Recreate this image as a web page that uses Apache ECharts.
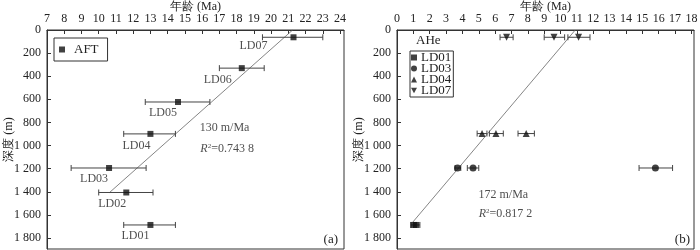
<!DOCTYPE html>
<html>
<head>
<meta charset="utf-8">
<script src="https://cdn.jsdelivr.net/npm/echarts@6/dist/echarts.min.js"></script>
<style>html,body{margin:0;padding:0;background:#fff;}#c{width:700px;height:250px;}</style>
</head>
<body>
<div id="c"></div>
<script>
// ---- data ----
const aftSamples = ['LD07', 'LD06', 'LD05', 'LD04', 'LD03', 'LD02', 'LD01'];
const aftAge = [21.3, 18.3, 14.6, 13.0, 10.6, 11.6, 13.0];
const aftDepth = [63, 330, 623, 899, 1194, 1406, 1687];
const aftErrLow = [19.5, 17.0, 12.7, 11.45, 8.4, 10.0, 11.45];
const aftErrHigh = [23.0, 19.6, 16.45, 14.45, 12.75, 13.15, 14.45];
const aftFit = [[21.25, 0], [10.6, 1410]];

const aheNames = ['LD01', 'LD03', 'LD04', 'LD07'];
const aheDepth = [1687, 1194, 896, 63];
const aheAge = [[1.0, 1.18], [3.7, 4.65, 15.8], [5.2, 6.05, 7.9], [6.7, 9.6, 11.1]];
const aheErrLow = [[0.85, 1.0], [3.55, 4.3, 14.8], [4.9, 5.65, 7.4], [6.3, 9.0, 10.45]];
const aheErrHigh = [[1.2, 1.4], [3.9, 5.0, 16.85], [5.5, 6.5, 8.4], [7.1, 10.25, 11.8]];
const aheFit = [[10.9, 0], [0.95, 1665]];

const depthTicks = [0, 200, 400, 600, 800, 1000, 1200, 1400, 1600, 1800];
const aftAgeTicks = [7, 8, 9, 10, 11, 12, 13, 14, 15, 16, 17, 18, 19, 20, 21, 22, 23, 24];
const aheAgeTicks = [0, 1, 2, 3, 4, 5, 6, 7, 8, 9, 10, 11, 12, 13, 14, 15, 16, 17, 18];

const fitRate = ['130 m/Ma', '172 m/Ma'];
const fitR2 = ['0.743 8', '0.817 2'];

// ---- layout / style ----
const FONT = 'Liberation Serif, Times New Roman, serif';
const TXT = '#222';
const LINE = '#333';
const aftLabelOffsets = [[-40, 9], [-24, 12], [-15, 11], [-14, 12], [-15, 11], [-14, 11], [-15, 11]];
const aheSymbols = ['rect', 'circle', 'triangle', 'path://M0,0L10,0L5,9Z'];
const fitTextPos = [[[17.3, 845], [17.45, 1028]], [[6.5, 1428], [6.63, 1593]]];

function fmtDepth(v) {
  if (v >= 1000) return Math.floor(v / 1000) + ' ' + String(v % 1000).padStart(3, '0');
  return String(v);
}

const grids = [
  { left: 47, top: 30, width: 297, height: 219 },
  { left: 397, top: 30, width: 297, height: 219 }
];

function xAxis(idx, min, max, ticks) {
  return {
    gridIndex: idx, type: 'value', position: 'top', min: min, max: max,
    name: '年龄 (Ma)', nameLocation: 'middle', nameGap: 17, nameMoveOverlap: false,
    nameTextStyle: { fontFamily: FONT, fontSize: 12, color: TXT },
    axisLine: { show: true, lineStyle: { color: LINE, width: 1 } },
    axisTick: { show: true, inside: true, length: 4, customValues: ticks, lineStyle: { color: LINE } },
    axisLabel: { customValues: ticks, margin: 5, fontFamily: FONT, fontSize: 12, color: TXT },
    splitLine: { show: false }
  };
}
function yAxis(idx) {
  return {
    gridIndex: idx, type: 'value', inverse: true, min: 0, max: 1895,
    name: '深度 (m)', nameLocation: 'middle', nameGap: 32, nameMoveOverlap: false,
    nameTextStyle: { fontFamily: FONT, fontSize: 12, color: TXT },
    axisLine: { show: true, lineStyle: { color: LINE, width: 1 } },
    axisTick: { show: true, inside: true, length: 4, customValues: depthTicks, lineStyle: { color: LINE } },
    axisLabel: { customValues: depthTicks, margin: 6, fontFamily: FONT, fontSize: 12, color: TXT, formatter: fmtDepth },
    splitLine: { show: false }
  };
}

function errRender(params, api) {
  const p1 = api.coord([api.value(0), api.value(2)]);
  const p2 = api.coord([api.value(1), api.value(2)]);
  const h = 3;
  const st = { stroke: '#444', lineWidth: 1 };
  return {
    type: 'group', children: [
      { type: 'line', shape: { x1: p1[0], y1: p1[1], x2: p2[0], y2: p2[1] }, style: st },
      { type: 'line', shape: { x1: p1[0], y1: p1[1] - h, x2: p1[0], y2: p1[1] + h }, style: st },
      { type: 'line', shape: { x1: p2[0], y1: p2[1] - h, x2: p2[0], y2: p2[1] + h }, style: st }
    ]
  };
}

const richFit = {
  it: { fontStyle: 'italic', fontFamily: FONT, fontSize: 12, color: TXT },
  sup: { fontSize: 7, fontFamily: FONT, verticalAlign: 'top', color: TXT },
  n: { fontFamily: FONT, fontSize: 12, color: TXT }
};
function fitTextSeries(k) {
  return {
    type: 'scatter', xAxisIndex: k, yAxisIndex: k, symbolSize: 0.001, silent: true, z: 4,
    itemStyle: { color: 'rgba(0,0,0,0)' },
    label: { show: true, position: 'inside', fontFamily: FONT, fontSize: 12, color: TXT, rich: richFit },
    data: [
      { value: fitTextPos[k][0], label: { formatter: fitRate[k] } },
      { value: fitTextPos[k][1], label: { formatter: '{it|R}{sup|2}{n|=' + fitR2[k] + '}' } }
    ]
  };
}

const series = [];
series.push({
  type: 'custom', xAxisIndex: 0, yAxisIndex: 0, renderItem: errRender, silent: true,
  encode: { x: [0, 1], y: 2 },
  data: aftDepth.map((d, i) => [aftErrLow[i], aftErrHigh[i], d]), z: 2
});
series.push({
  type: 'line', xAxisIndex: 0, yAxisIndex: 0, data: aftFit, showSymbol: false, symbol: 'none',
  lineStyle: { color: '#666', width: 0.8 }, silent: true, z: 1
});
series.push(fitTextSeries(0));
series.push({
  name: 'AFT', type: 'scatter', xAxisIndex: 0, yAxisIndex: 0, symbol: 'rect', symbolSize: 6,
  itemStyle: { color: '#111' }, z: 3,
  data: aftAge.map((a, i) => ({
    value: [a, aftDepth[i]],
    label: { show: true, position: 'inside', offset: aftLabelOffsets[i], formatter: aftSamples[i],
      fontFamily: FONT, fontSize: 12, color: TXT }
  }))
});

const aheErr = [];
aheNames.forEach((n, k) => {
  aheAge[k].forEach((a, j) => aheErr.push([aheErrLow[k][j], aheErrHigh[k][j], aheDepth[k]]));
});
series.push({
  type: 'custom', xAxisIndex: 1, yAxisIndex: 1, renderItem: errRender, silent: true,
  encode: { x: [0, 1], y: 2 }, data: aheErr, z: 2
});
series.push({
  type: 'line', xAxisIndex: 1, yAxisIndex: 1, data: aheFit, showSymbol: false, symbol: 'none',
  lineStyle: { color: '#666', width: 0.8 }, silent: true, z: 1
});
series.push(fitTextSeries(1));
aheNames.forEach((n, k) => {
  series.push({
    name: n, type: 'scatter', xAxisIndex: 1, yAxisIndex: 1, symbol: aheSymbols[k],
    symbolSize: k === 0 ? 6 : 7,
    itemStyle: { color: '#111' }, z: 3,
    data: aheAge[k].map(a => [a, aheDepth[k]])
  });
});

const option = {
  animation: false,
  textStyle: { fontFamily: FONT },
  grid: grids.map(g => Object.assign({ show: true, borderColor: LINE, borderWidth: 1, backgroundColor: 'transparent',
    containLabel: false, outerBoundsMode: 'none' }, g)),
  xAxis: [xAxis(0, 7, 24.23, aftAgeTicks), xAxis(1, 0, 18.16, aheAgeTicks)],
  yAxis: [yAxis(0), yAxis(1)],
  legend: [
    { data: ['AFT'], left: 54, top: 38, orient: 'vertical', padding: [5, 9, 5, 5],
      itemWidth: 6, itemHeight: 6, borderColor: LINE, borderWidth: 1, selectedMode: false,
      textStyle: { fontFamily: FONT, fontSize: 13, color: TXT, padding: [0, 0, 0, 4] } },
    { data: aheNames, left: 410, top: 51, orient: 'vertical', padding: [0, 2, 0, 1], itemGap: -2,
      itemWidth: 6, itemHeight: 6, borderColor: LINE, borderWidth: 1, selectedMode: false,
      textStyle: { fontFamily: FONT, fontSize: 13, lineHeight: 11, color: TXT, padding: [0, 0, 0, -1] } }
  ],
  graphic: [
    { type: 'text', left: 416, top: 34, style: { text: 'AHe', font: '13px ' + FONT, fill: TXT } },
    { type: 'text', right: 362, top: 233, style: { text: '(a)', font: '13px ' + FONT, fill: TXT } },
    { type: 'text', right: 10, top: 233, style: { text: '(b)', font: '13px ' + FONT, fill: TXT } }
  ],
  series: series
};

const chart = echarts.init(document.getElementById('c'), null, { renderer: 'canvas' });
chart.setOption(option);
</script>
</body>
</html>
